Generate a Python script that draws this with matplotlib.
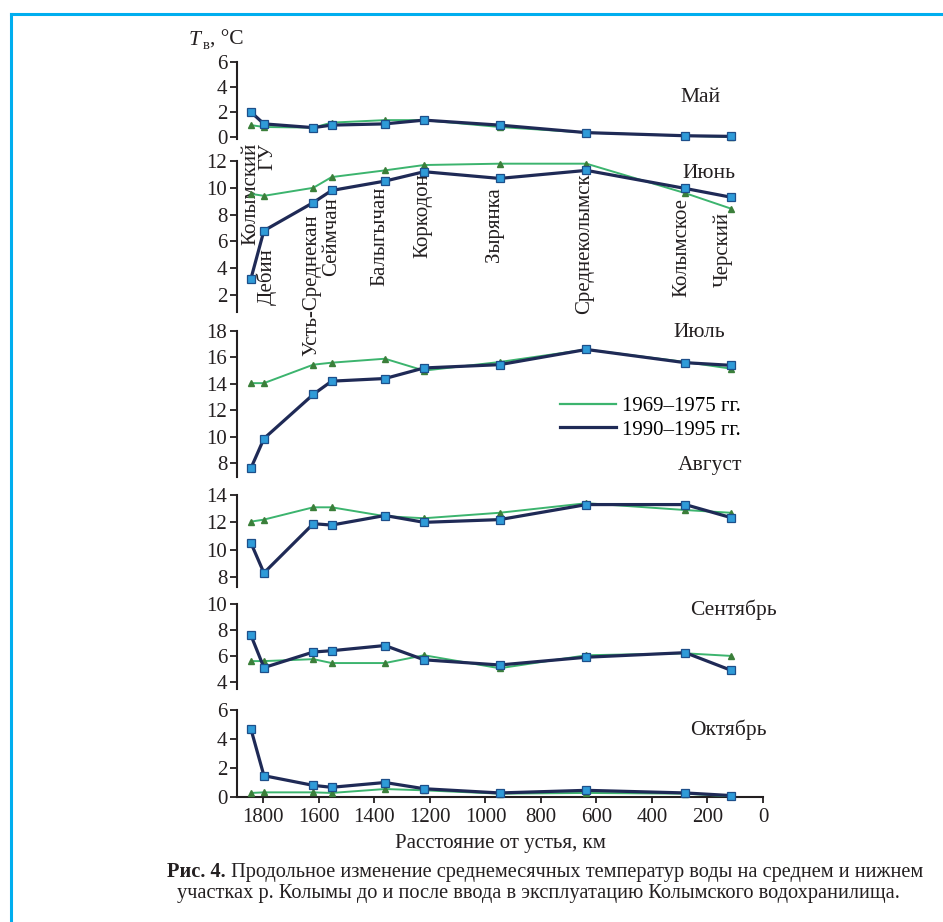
import matplotlib
matplotlib.use('Agg')
import matplotlib.pyplot as plt
from matplotlib.lines import Line2D

plt.rcParams['font.family'] = ['Liberation Serif', 'DejaVu Serif']
plt.rcParams['font.size'] = 15

W, H = 943, 922

# stations along the Kolyma, km from the mouth
stations = ['Колымский\nГУ', 'Дебин', 'Усть-Среднекан', 'Сеймчан', 'Балыгычан',
            'Коркодон', 'Зырянка', 'Среднеколымск', 'Колымское', 'Черский']
dist_km = [1845, 1798, 1620, 1554, 1362, 1221, 949, 636, 280, 116]

# mean monthly water temperature, 1969-1975 (old) and 1990-1995 (new)
may_old = [0.95, 0.8, 0.75, 1.15, 1.35, 1.35, 0.8, 0.35, 0.1, 0.0]
may_new = [2.0, 1.05, 0.75, 0.95, 1.05, 1.35, 0.95, 0.35, 0.1, 0.05]
jun_old = [9.55, 9.4, 10.0, 10.8, 11.3, 11.7, 11.8, 11.8, 9.6, 8.45]
jun_new = [3.2, 6.8, 8.9, 9.8, 10.5, 11.2, 10.7, 11.3, 9.95, 9.3]
jul_old = [14.05, 14.05, 15.45, 15.6, 15.9, 15.0, 15.65, 16.6, 15.65, 15.15]
jul_new = [7.6, 9.85, 13.2, 14.2, 14.4, 15.2, 15.45, 16.6, 15.6, 15.4]
aug_old = [12.05, 12.2, 13.1, 13.1, 12.45, 12.3, 12.7, 13.4, 12.9, 12.7]
aug_new = [10.5, 8.3, 11.9, 11.8, 12.5, 12.0, 12.2, 13.3, 13.3, 12.35]
sep_old = [5.6, 5.6, 5.75, 5.45, 5.45, 6.05, 5.05, 6.05, 6.2, 6.0]
sep_new = [7.6, 5.1, 6.3, 6.4, 6.8, 5.7, 5.3, 5.9, 6.25, 4.9]
oct_old = [0.28, 0.32, 0.32, 0.28, 0.55, 0.46, 0.23, 0.28, 0.23, 0.05]
oct_new = [4.7, 1.47, 0.8, 0.67, 1.0, 0.57, 0.28, 0.46, 0.28, 0.1]

months = ['Май', 'Июнь', 'Июль', 'Август', 'Сентябрь', 'Октябрь']
x_ticks = [1800, 1600, 1400, 1200, 1000, 800, 600, 400, 200, 0]
legend_labels = ['1969–1975 гг.', '1990–1995 гг.']

green = '#3cb46e'
green_mk = '#3b7f3a'
navy = '#1f2a56'
sq_face = '#2f9bd8'
sq_edge = '#1d4f8a'
ink = '#231f20'

# panel layout: pixel top/bottom, y limits, y ticks, month label position (px)
layout = [
    (62, 139, (-0.16, 6), [0, 2, 4, 6], (680, 97)),
    (161, 312, (0.73, 12), [2, 4, 6, 8, 10, 12], (682, 173)),
    (331, 477, (6.94, 18), [8, 10, 12, 14, 16, 18], (673, 332)),
    (495, 587, (7.27, 14), [8, 10, 12, 14], (678, 465)),
    (604, 689, (3.45, 10), [4, 6, 8, 10], (690, 610)),
    (710, 797, (0, 6), [0, 2, 4, 6], (690, 730)),
]
series = [(may_old, may_new), (jun_old, jun_new), (jul_old, jul_new),
          (aug_old, aug_new), (sep_old, sep_new), (oct_old, oct_new)]

x_left, x_right = 237, 763

fig = plt.figure(figsize=(W / 100, H / 100), dpi=100)

axes = []
for i, (month, (old, new), lay) in enumerate(zip(months, series, layout)):
    top, bot, ylim, yt, (mx, my) = lay
    ax = fig.add_axes([x_left / W, 1 - bot / H, (x_right - x_left) / W, (bot - top) / H])
    ax.patch.set_visible(False)
    ax.plot(dist_km, old, color=green, lw=1.4, marker='^', ms=5, mfc=green_mk,
            mec=green_mk, clip_on=False, zorder=3)
    ax.plot(dist_km, new, color=navy, lw=2.3, marker='s', ms=5.8, mfc=sq_face,
            mec=sq_edge, mew=0.9, clip_on=False, zorder=4)
    ax.set_xlim(1895, 0)
    ax.set_ylim(*ylim)
    ax.set_yticks(yt)
    for s in ['top', 'right']:
        ax.spines[s].set_visible(False)
    ax.spines['left'].set_linewidth(1.5)
    ax.spines['left'].set_color(ink)
    ax.tick_params(axis='y', direction='out', length=5, width=1.3, pad=2,
                   labelsize=15, colors=ink)
    if i < len(months) - 1:
        ax.spines['bottom'].set_visible(False)
        ax.tick_params(axis='x', bottom=False, labelbottom=False)
    else:
        ax.spines['bottom'].set_linewidth(1.5)
        ax.spines['bottom'].set_color(ink)
        ax.set_xticks(x_ticks)
        ax.tick_params(axis='x', direction='out', length=4, width=1.3, pad=4,
                       labelsize=15, colors=ink)
    fig.text(mx / W, 1 - my / H, month, ha='left', va='center', fontsize=15.5, color=ink)
    axes.append(ax)

# station names written down the June panel
label_x = [1816, 1787, 1625, 1553, 1380, 1225, 966, 641, 292, 144]
label_top = [13.34, 5.5, 8.0, 9.3, 10.06, 11.1, 10.06, 11.1, 9.24, 8.2]
for name, lx, ly in zip(stations, label_x, label_top):
    axes[1].text(lx, ly, name, rotation=90, ha='center', va='top', multialignment='right',
                 linespacing=0.85, fontsize=15, color=ink, clip_on=False, zorder=2)

# legend
handles = [Line2D([], [], color=green, lw=1.6), Line2D([], [], color=navy, lw=2.3)]
fig.legend(handles, legend_labels, loc='center left', bbox_to_anchor=(560 / W, 1 - 418 / H),
           frameon=False, borderpad=0, borderaxespad=0, handlelength=2.7,
           handletextpad=0.3, labelspacing=0.2, fontsize=15)

# y axis title
fig.text(189 / W, 1 - 45 / H, 'T', style='italic', fontsize=15.5, va='baseline', color=ink)
fig.text(203 / W, 1 - 49 / H, 'в', fontsize=10.5, va='baseline', color=ink)
fig.text(210 / W, 1 - 45 / H, ', °C', fontsize=15.5, va='baseline', color=ink)

# x axis title
fig.text(500 / W, 1 - 848 / H, 'Расстояние от устья, км', ha='center', va='baseline',
         fontsize=15, color=ink)

# caption
fig.canvas.draw()
r = fig.canvas.get_renderer()
cap_bold = 'Рис. 4.'
cap_rest = ' Продольное изменение среднемесячных температур воды на среднем и нижнем'
cap_line2 = 'участках р. Колымы до и после ввода в эксплуатацию Колымского водохранилища.'
cap_size = 14.7
tb = fig.text(0, 1 - 877 / H, cap_bold, weight='bold', fontsize=cap_size, va='baseline', color=ink)
tr = fig.text(0, 1 - 877 / H, cap_rest, fontsize=cap_size, va='baseline', color=ink)
wb = tb.get_window_extent(r).width
wr = tr.get_window_extent(r).width
x0 = 545 - (wb + wr) / 2
tb.set_x(x0 / W)
tr.set_x((x0 + wb) / W)
fig.text(538 / W, 1 - 898 / H, cap_line2, ha='center', va='baseline', fontsize=cap_size, color=ink)

# blue corner frame
frame = '#00aeef'
fig.add_artist(Line2D([10.7 / W, 1], [1 - 14 / H, 1 - 14 / H], color=frame, lw=2.2,
                      transform=fig.transFigure))
fig.add_artist(Line2D([10.7 / W, 10.7 / W], [0, 1 - 14 / H], color=frame, lw=2.2,
                      transform=fig.transFigure))

fig.savefig('out.png', dpi=100)
